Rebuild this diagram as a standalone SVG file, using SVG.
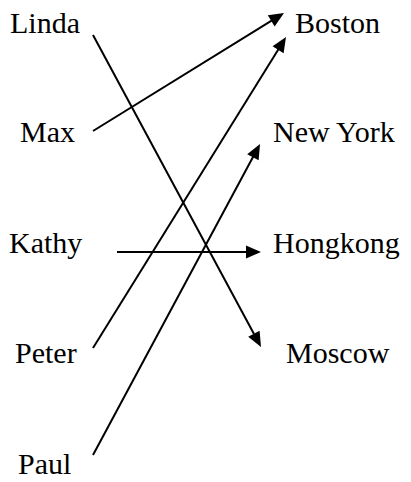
<svg xmlns="http://www.w3.org/2000/svg" width="411" height="482" viewBox="0 0 411 482">
<rect width="411" height="482" fill="#fff"/>
<g id="linda"><text x="10" y="33" font-family="Liberation Serif, serif" font-size="30">Linda</text></g>
<g id="max"><text x="20" y="142" font-family="Liberation Serif, serif" font-size="30">Max</text></g>
<g id="kathy"><text x="9" y="253" font-family="Liberation Serif, serif" font-size="30">Kathy</text></g>
<g id="peter"><text x="15" y="363" font-family="Liberation Serif, serif" font-size="30">Peter</text></g>
<g id="paul"><text x="18" y="474" font-family="Liberation Serif, serif" font-size="30">Paul</text></g>
<g id="boston"><text x="295" y="33" font-family="Liberation Serif, serif" font-size="30">Boston</text></g>
<g id="newyork"><text x="273" y="142" font-family="Liberation Serif, serif" font-size="30">New York</text></g>
<g id="hongkong"><text x="273" y="253" font-family="Liberation Serif, serif" font-size="30">Hongkong</text></g>
<g id="moscow"><text x="286" y="363" font-family="Liberation Serif, serif" font-size="30">Moscow</text></g>
<g id="connectors" stroke="#000" stroke-width="2" fill="#000">
<line x1="93" y1="35" x2="254" y2="334"/>
<polygon stroke="none" points="261,347 248.17,336.87 259.61,330.71"/>
<line x1="93" y1="131" x2="272" y2="20.4"/>
<polygon stroke="none" points="284,13 274.66,26.41 267.82,15.35"/>
<line x1="117" y1="252" x2="247" y2="252"/>
<polygon stroke="none" points="261,252 246,245.5 246,258.5"/>
<line x1="93" y1="348" x2="278.6" y2="49"/>
<polygon stroke="none" points="286,37 283.61,53.18 272.57,46.32"/>
<line x1="93" y1="455" x2="253.4" y2="156.3"/>
<polygon stroke="none" points="260,144 258.63,160.30 247.17,154.14"/>
</g>
</svg>
